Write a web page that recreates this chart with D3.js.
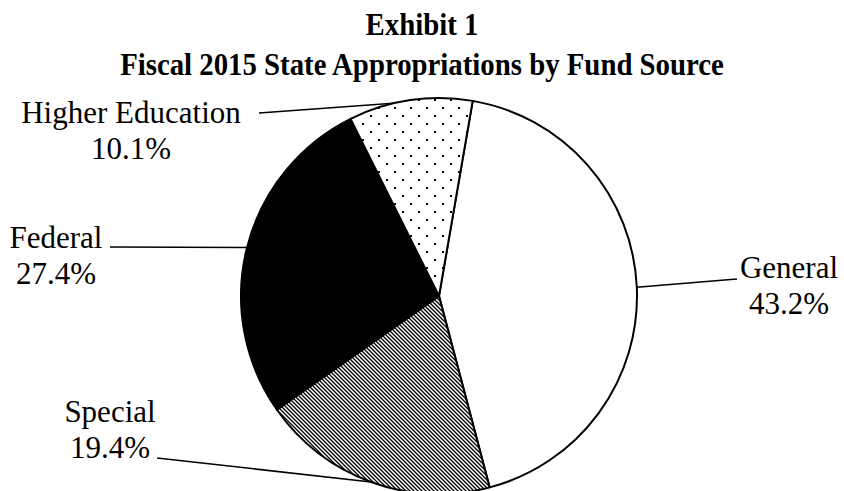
<!DOCTYPE html>
<html>
<head>
<meta charset="utf-8">
<script src="https://cdn.jsdelivr.net/npm/d3@7"></script>
<style>
  body { margin: 0; background: #fff; }
  text { font-family: "Liberation Serif", "Times New Roman", serif; fill: #000; }
</style>
</head>
<body>
<script>
const categories = ["General", "Special", "Federal", "Higher Education"];
const shares = [43.2, 19.4, 27.4, 10.1];
const shareLabels = ["43.2%", "19.4%", "27.4%", "10.1%"];
const titleLines = ["Exhibit 1", "Fiscal 2015 State Appropriations by Fund Source"];

const width = 844, height = 491;
const cx = 439, cy = 296, r = 198;

// where each label sits and where its leader line starts
const labelPos = [
  { x: 789, y: 278, lineX: 737, lineY: 279, tweak: 0 },
  { x: 110, y: 422, lineX: 157, lineY: 458, tweak: 0 },
  { x: 56, y: 248, lineX: 110, lineY: 247, tweak: 0 },
  { x: 131, y: 123, lineX: 259, lineY: 113, tweak: -5 }
];

const svg = d3.select("body").append("svg")
  .attr("width", width)
  .attr("height", height);

const defs = svg.append("defs");

// fine diagonal hatch for Special
const hatch = defs.append("pattern")
  .attr("id", "hatch")
  .attr("patternUnits", "userSpaceOnUse")
  .attr("width", 4).attr("height", 4);
hatch.append("rect").attr("width", 4).attr("height", 4).attr("fill", "#fff");
hatch.append("path")
  .attr("d", "M-1,-1L5,5M-1,3L1,5M3,-1L5,1")
  .attr("stroke", "#000").attr("stroke-width", 1.3);

// sparse dots for Higher Education
const dots = defs.append("pattern")
  .attr("id", "dots")
  .attr("patternUnits", "userSpaceOnUse")
  .attr("width", 16).attr("height", 16);
dots.append("rect").attr("width", 16).attr("height", 16).attr("fill", "#fff");
dots.append("rect").attr("x", 3).attr("y", 3).attr("width", 2).attr("height", 2).attr("fill", "#000");
dots.append("rect").attr("x", 11).attr("y", 11).attr("width", 2).attr("height", 2).attr("fill", "#000");

const fills = ["#fff", "url(#hatch)", "#000", "url(#dots)"];

// title is a slightly condensed bold serif
svg.append("g")
  .attr("transform", "translate(422,0) scale(0.9,1)")
  .selectAll("text.title")
  .data(titleLines)
  .enter().append("text")
  .attr("class", "title")
  .attr("x", 0)
  .attr("y", (d, i) => 35 + i * 40)
  .attr("text-anchor", "middle")
  .attr("font-size", 32)
  .attr("font-weight", "bold")
  .text(d => d);

const startAngle = 9.8 * Math.PI / 180;
const pie = d3.pie().sort(null)
  .startAngle(startAngle)
  .endAngle(startAngle + 2 * Math.PI);
const arcs = pie(shares);

const arc = d3.arc().innerRadius(0).outerRadius(r);

const g = svg.append("g").attr("transform", `translate(${cx},${cy})`);

g.selectAll("path")
  .data(arcs)
  .enter().append("path")
  .attr("d", arc)
  .attr("fill", (d, i) => fills[i])
  .attr("stroke", "#000")
  .attr("stroke-width", 2)
  .attr("stroke-linejoin", "round");

// leader lines
const edge = (d, i) => (d.startAngle + d.endAngle) / 2 + labelPos[i].tweak * Math.PI / 180;

svg.selectAll("line.leader")
  .data(arcs)
  .enter().append("line")
  .attr("class", "leader")
  .attr("x1", (d, i) => labelPos[i].lineX)
  .attr("y1", (d, i) => labelPos[i].lineY)
  .attr("x2", (d, i) => cx + r * Math.sin(edge(d, i)))
  .attr("y2", (d, i) => cy - r * Math.cos(edge(d, i)))
  .attr("stroke", "#000")
  .attr("stroke-width", 1.5);

const labels = svg.selectAll("text.label")
  .data(categories)
  .enter().append("text")
  .attr("class", "label")
  .attr("text-anchor", "middle")
  .attr("font-size", 31);

labels.append("tspan")
  .attr("x", (d, i) => labelPos[i].x)
  .attr("y", (d, i) => labelPos[i].y)
  .text(d => d);

labels.append("tspan")
  .attr("x", (d, i) => labelPos[i].x)
  .attr("y", (d, i) => labelPos[i].y + 36)
  .text((d, i) => shareLabels[i]);
</script>
</body>
</html>
